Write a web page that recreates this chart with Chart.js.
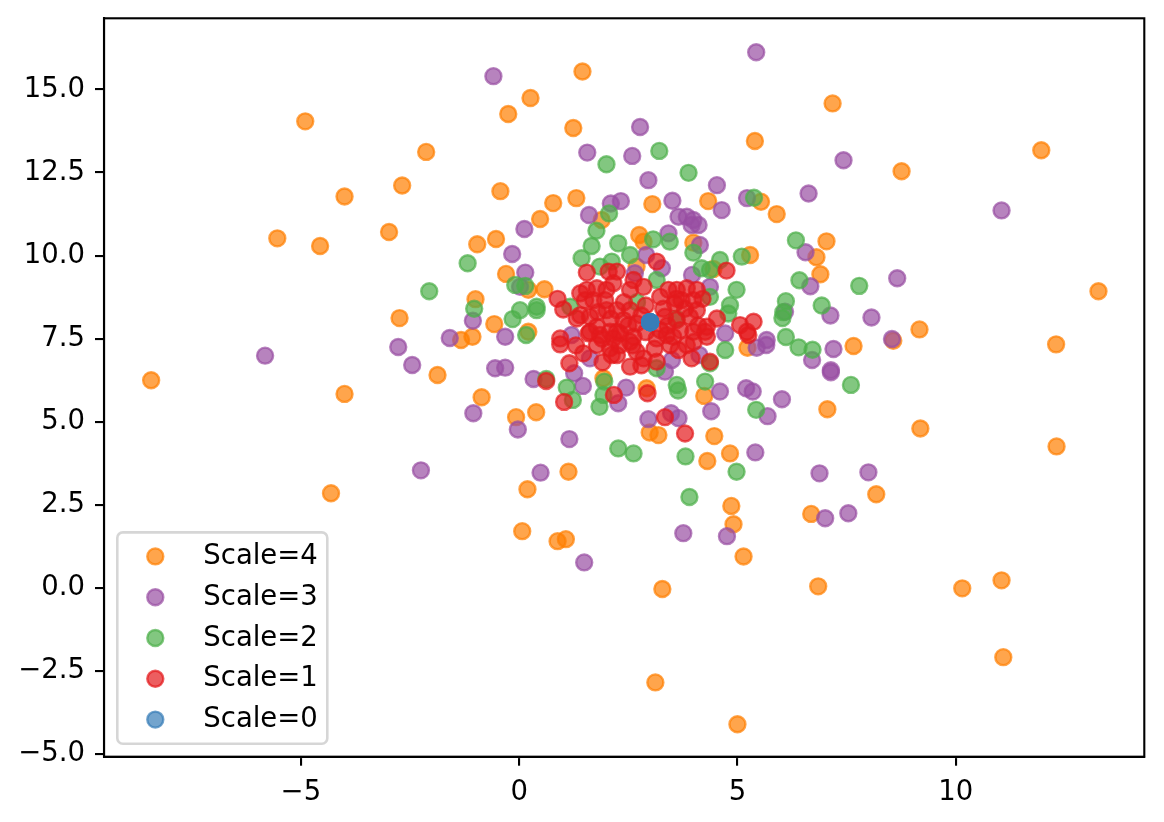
<!DOCTYPE html>
<html><head><meta charset="utf-8">
<script src="https://cdn.jsdelivr.net/npm/chart.js@4.4.0/dist/chart.umd.min.js"></script>
<style>html,body{margin:0;padding:0;background:#fff;}canvas{display:block;}</style>
</head><body>
<canvas id="c" width="1164" height="822"></canvas>
<script>
// ---- data ----
const seriesLabels = ['Scale=0', 'Scale=1', 'Scale=2', 'Scale=3', 'Scale=4'];
const seriesColors = ['55,126,184', '228,26,28', '77,175,74', '152,78,163', '255,127,0'];
const xTicks = [-5, 0, 5, 10];
const yTicks = [-5, -2.5, 0, 2.5, 5, 7.5, 10, 12.5, 15];

const scale0 = [[3,8],[3,8],[3,8],[3,8],[3,8],[3,8],[3,8],[3,8]];

const scale1 = [
[1.55,9.49],[2.05,9.52],[0.88,8.70],[1.01,8.38],[1.32,8.11],[1.55,8.97],[1.78,9.02],[2.00,8.97],[1.51,8.66],[0.94,7.51],
[1.40,8.87],[1.70,8.66],[1.97,8.66],[2.00,8.36],[1.40,8.21],[1.62,8.16],[1.78,7.86],[2.08,7.71],[1.59,7.66],
[3.15,9.82],[4.75,9.55],[4.53,8.11],[5.06,7.91],[5.37,8.01],[5.22,7.71],[4.30,7.86],[2.24,9.52],[2.16,9.17],[2.62,9.27],
[2.85,9.06],[2.54,8.97],[3.61,8.97],[3.84,9.02],[4.07,8.97],[3.72,8.66],[3.99,8.66],[3.23,8.76],[3.42,8.97],[3.57,8.56],
[4.07,8.36],[2.24,8.36],[2.54,8.36],[2.39,8.06],[2.69,7.96],[3.34,8.16],[3.61,8.06],[3.91,8.16],[3.23,7.76],[3.69,7.76],
[3.99,7.71],[2.31,7.66],[2.62,7.56],[3.53,7.56],[4.30,7.56],
[5.25,7.61],[4.37,6.81],[3.95,6.91],[3.65,7.16],[2.54,6.66],[2.85,6.91],[3.15,6.81],[2.94,5.86],[3.34,5.14],[3.80,4.65],
[2.24,7.71],[2.54,7.41],[2.24,7.01],[2.69,7.11],[3.46,7.31],[3.84,7.31],[3.38,7.61],[3.15,7.51],[2.17,5.81],[4.26,7.71],
[0.94,7.33],[1.47,7.06],[1.15,6.76],[1.91,6.79],[2.12,7.01],[0.62,6.23],[1.03,5.60],[1.62,7.71],[1.85,7.61],[2.16,7.51],
[1.78,7.31],[2.08,7.21],
[2.40,8.60],[2.90,8.50],[3.30,8.40],[2.10,8.10],[2.80,8.20],[3.80,8.40],[1.90,7.50],[2.50,7.90],[2.90,7.70],[3.40,7.90],
[3.10,7.20],[2.60,7.30],[4.00,7.40],[1.80,8.30],[2.30,7.30],[3.60,8.70],[4.20,8.70],[1.30,7.30],[2.80,6.70],[4.10,7.90]
];

const scale2 = [
[-2.06,8.93],[-1.18,9.77],[6.34,10.46],[6.42,9.26],[7.79,9.09],[6.11,8.63],[6.05,8.30],[6.03,8.12],[6.93,8.50],[6.11,7.55],
[6.40,7.24],[6.72,7.17],[7.60,6.11],[2.00,12.75],[3.21,13.15],[3.88,12.49],[5.38,11.74],[2.06,11.27],[1.77,10.75],[1.66,10.29],
[1.43,9.92],[2.27,10.37],[1.85,9.67],[2.12,9.82],[-0.09,9.12],[0.14,9.09],[-1.03,8.40],[-0.15,8.09],[0.02,8.36],[0.40,8.46],
[0.40,8.36],[1.17,8.46],[0.16,7.61],[2.54,10.02],[3.07,10.49],[3.45,10.42],[3.99,10.09],[4.60,9.87],[5.10,9.97],[3.15,9.27],
[4.18,9.62],[4.37,9.57],[4.98,8.97],[4.37,8.76],[4.83,8.51],[4.79,8.26],[0.62,6.29],[1.09,6.03],[1.95,6.21],[1.93,5.81],
[1.23,5.66],[1.84,5.45],[2.27,4.20],[4.72,7.16],[4.37,6.76],[3.15,6.61],[3.61,6.11],[3.64,5.94],[4.26,6.21],[5.43,5.36],
[2.62,4.05],[3.81,3.96],[4.98,3.50],[3.90,2.74],[2.70,8.60],[3.60,8.10]
];

const scale3 = [
[-1.59,7.52],[-2.77,7.25],[-2.45,6.71],[-5.82,6.99],[-2.25,3.54],[7.43,12.87],[6.63,11.87],[11.05,11.36],[6.56,10.10],[6.67,9.08],
[8.66,9.32],[6.09,8.31],[7.13,8.20],[8.07,8.14],[8.54,7.49],[7.20,7.19],[6.71,6.86],[7.14,6.55],[7.14,6.49],[6.02,5.68],
[6.88,3.45],[8.00,3.48],[7.01,2.10],[7.54,2.25],[5.43,16.12],[-0.59,15.40],[2.77,13.87],[1.56,13.10],[2.59,13.00],[2.96,12.27],
[4.53,12.12],[2.10,11.57],[2.33,11.64],[3.51,11.65],[4.64,11.37],[5.22,11.73],[1.60,11.22],[3.65,11.17],[3.84,11.17],[3.99,11.07],
[4.11,10.92],[3.95,10.92],[3.42,10.67],[2.91,10.02],[4.14,10.32],[3.27,9.62],[2.65,9.47],[3.96,9.42],[4.37,9.06],[5.67,7.46],
[0.12,10.80],[-0.16,10.05],[0.14,9.49],[0.02,9.06],[-1.06,8.04],[-0.32,7.56],[1.20,7.61],[1.62,6.91],[1.26,6.46],[-0.55,6.61],
[-0.32,6.63],[0.33,6.29],[1.46,6.08],[2.27,5.56],[-1.05,5.26],[-0.03,4.77],[1.15,4.48],[0.49,3.47],[5.44,7.23],[5.66,7.31],
[4.72,7.66],[4.13,7.01],[3.50,6.86],[3.34,6.51],[4.60,5.91],[4.40,5.32],[2.45,6.03],[5.20,6.01],[5.35,5.91],[5.69,5.17],
[2.96,5.08],[3.48,5.26],[3.65,5.11],[5.41,4.08],[3.76,1.65],[4.76,1.56],[1.49,0.77]
];

const scale4 = [
[-4.90,14.04],[-2.13,13.12],[-2.68,12.11],[-4.00,11.78],[-5.54,10.52],[-4.56,10.29],[-2.98,10.71],[-2.74,8.12],[-1.33,7.46],[-1.87,6.41],
[-8.43,6.25],[-4.00,5.84],[-4.31,2.85],[7.18,14.58],[11.96,13.17],[8.76,12.54],[5.90,11.25],[7.04,10.43],[6.81,9.95],[6.90,9.44],
[13.27,8.93],[9.17,7.78],[8.57,7.44],[12.30,7.33],[7.66,7.28],[7.06,5.38],[9.19,4.80],[12.31,4.26],[8.18,2.82],[6.69,2.23],
[6.85,0.05],[10.15,-0.01],[11.05,0.23],[11.09,-2.08],[1.45,15.54],[0.26,14.74],[-0.25,14.26],[1.24,13.84],[5.40,13.45],[-0.43,11.94],
[0.78,11.58],[1.31,11.73],[3.05,11.55],[4.33,11.64],[5.54,11.62],[0.48,11.10],[1.89,11.07],[-0.53,10.50],[-0.96,10.34],[-0.30,9.45],
[0.58,8.99],[0.21,8.97],[-1.00,8.69],[-0.57,7.94],[0.21,7.71],[2.75,10.62],[2.85,10.42],[3.99,10.39],[5.29,10.02],[2.69,9.67],
[4.45,9.60],[1.13,3.50],[0.19,2.97],[4.86,2.47],[4.91,1.92],[5.14,0.95],[0.07,1.71],[0.88,1.41],[1.07,1.47],[3.28,-0.03],
[3.12,-2.84],[5.00,-4.10],[-1.07,7.56],[-0.86,5.74],[-0.07,5.14],[0.39,5.29],[1.93,6.31],[5.23,7.23],[4.24,5.78],[2.92,6.01],
[2.99,4.68],[3.19,4.60],[4.47,4.57],[4.31,3.82],[4.83,4.05]
];

// ---- chart ----
const FONT = "'DejaVu Sans', sans-serif";
const FS = 27.5;
const seriesData = [scale0, scale1, scale2, scale3, scale4];
const rgba = (c, a) => `rgba(${c},${a})`;
const minus = v => (v < 0 ? '\u2212' : '');

const datasets = seriesData.map((d, i) => ({
  label: seriesLabels[i],
  data: d.map(([x, y]) => ({x, y})),
  backgroundColor: rgba(seriesColors[i], 0.7),
  borderColor: rgba(seriesColors[i], 0.7),
  borderWidth: 2.4,
  pointRadius: 8,
  pointHoverRadius: 8
}));

const framePlugin = {
  id: 'frame',
  afterDatasetsDraw(chart) {
    const {ctx, chartArea: a} = chart;
    ctx.save();
    ctx.strokeStyle = '#000';
    ctx.lineWidth = 2.1;
    ctx.strokeRect(a.left, a.top, a.right - a.left, a.bottom - a.top);
    ctx.restore();
  }
};

const legendPlugin = {
  id: 'mplLegend',
  afterDraw(chart) {
    const {ctx, chartArea: a} = chart;
    const w = 210, h = 211.3, r = 5.5;
    const x0 = a.left + 13.3, y0 = a.bottom - 13 - h;
    ctx.save();
    ctx.beginPath();
    ctx.moveTo(x0 + r, y0);
    ctx.arcTo(x0 + w, y0, x0 + w, y0 + h, r);
    ctx.arcTo(x0 + w, y0 + h, x0, y0 + h, r);
    ctx.arcTo(x0, y0 + h, x0, y0, r);
    ctx.arcTo(x0, y0, x0 + w, y0, r);
    ctx.closePath();
    ctx.fillStyle = 'rgba(255,255,255,0.8)';
    ctx.fill();
    ctx.strokeStyle = 'rgba(204,204,204,0.8)';
    ctx.lineWidth = 2.6;
    ctx.stroke();
    const order = [4, 3, 2, 1, 0];
    ctx.font = `${FS}px ${FONT}`;
    ctx.textAlign = 'left';
    ctx.textBaseline = 'alphabetic';
    order.forEach((di, k) => {
      const ds = chart.data.datasets[di];
      const cy = y0 + 24 + k * 40.8;
      ctx.beginPath();
      ctx.arc(x0 + 38, cy, 8, 0, Math.PI * 2);
      ctx.fillStyle = ds.backgroundColor;
      ctx.fill();
      ctx.strokeStyle = ds.borderColor;
      ctx.lineWidth = 2.4;
      ctx.stroke();
      ctx.fillStyle = '#000';
      ctx.fillText(ds.label, x0 + 86, cy + 7.5);
    });
    ctx.restore();
  }
};

const axisCommon = {
  type: 'linear',
  grid: {drawOnChartArea: false, drawTicks: true, tickLength: 9, tickWidth: 2.1, tickColor: '#000', color: '#000', lineWidth: 2.1},
  border: {display: true, color: '#000', width: 2.1}
};

new Chart(document.getElementById('c'), {
  type: 'scatter',
  data: {datasets},
  plugins: [framePlugin, legendPlugin],
  options: {
    responsive: false,
    animation: false,
    events: [],
    layout: {padding: {left: 0, top: 18.3, right: 19.7, bottom: 0}},
    plugins: {legend: {display: false}, tooltip: {enabled: false}},
    scales: {
      x: Object.assign({}, axisCommon, {
        position: 'bottom',
        min: -9.51, max: 14.32,
        afterFit: s => { s.height = 65.3; s.paddingLeft = 0; s.paddingRight = 0; },
        afterBuildTicks: s => { s.ticks = xTicks.map(v => ({value: v})); },
        ticks: {color: '#000', font: {family: FONT, size: FS}, padding: 11, maxRotation: 0, autoSkip: false,
                callback: v => minus(v) + Math.abs(v)}
      }),
      y: Object.assign({}, axisCommon, {
        position: 'left',
        min: -5.075, max: 17.14,
        afterFit: s => { s.width = 104; s.paddingTop = 0; s.paddingBottom = 0; },
        afterBuildTicks: s => { s.ticks = yTicks.map(v => ({value: v})); },
        ticks: {color: '#000', font: {family: FONT, size: FS}, padding: 10, autoSkip: false,
                callback: v => minus(v) + Math.abs(v).toFixed(1)}
      })
    }
  }
});
</script>
</body></html>
